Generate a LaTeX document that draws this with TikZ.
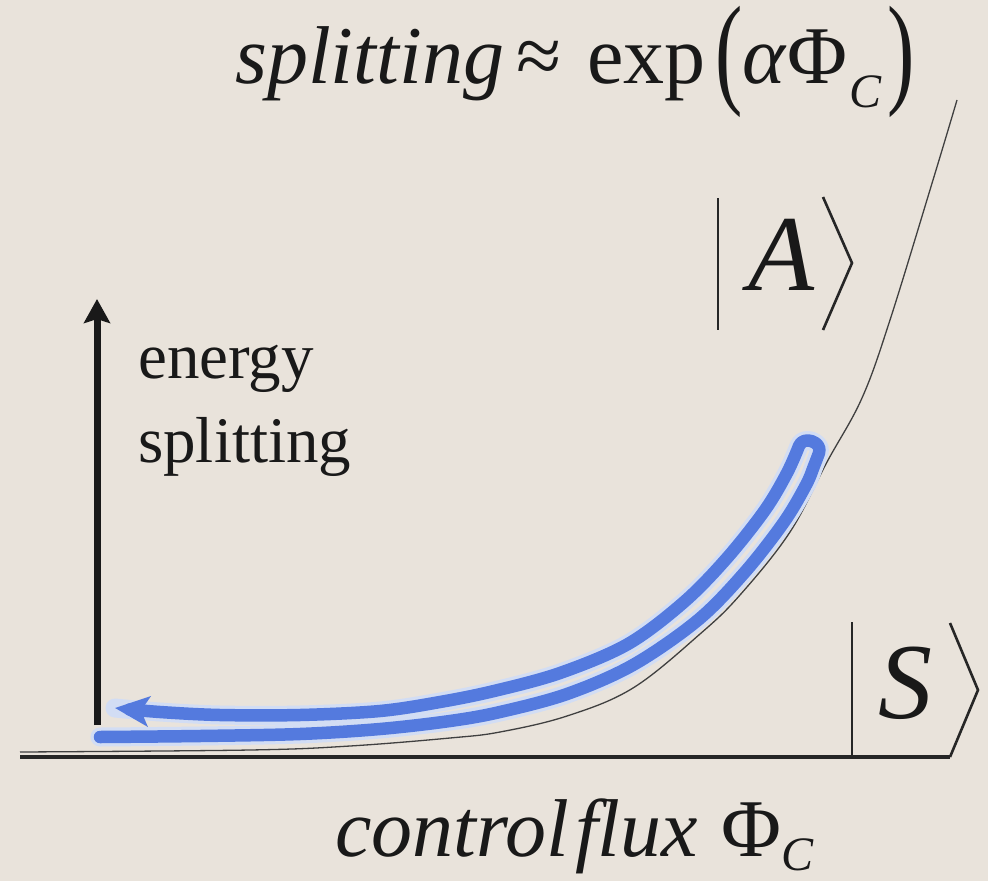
\documentclass[tikz,border=0pt]{standalone}
\usepackage{fontspec}
\setmainfont{Liberation Serif}
\usepackage{graphicx}
\usetikzlibrary{arrows.meta}
\definecolor{bg}{RGB}{233,227,219}
\definecolor{loopblue}{RGB}{84,122,222}
\definecolor{glow}{RGB}{210,221,244}
\newcommand{\tallparen}[1]{\raisebox{-8pt}{\scalebox{1}[1.5]{#1}}}
\newcommand{\subC}[1]{\raisebox{#1}{\fontsize{48}{50}\selectfont\textit{C}}}
\tikzset{
  axisline/.style={line width=3.5pt, draw=black!85},
  curveline/.style={line width=1.3pt, draw=black!75},
  ketline/.style={line width=2.6pt, draw=black!85, line join=miter},
  bigtext/.style={font=\fontsize{82}{90}\selectfont, inner sep=0pt, text=black!90},
  kettext/.style={font=\fontsize{108}{120}\selectfont\itshape, inner sep=0pt, text=black!90},
  labeltext/.style={font=\fontsize{65}{70}\selectfont, inner sep=0pt, text=black!90},
  loopstroke/.style={line width=12.5pt, draw=loopblue, line cap=round, line join=round},
  loophalo/.style={line width=19pt, draw=glow, line cap=round, line join=round},
  energyarrow/.style={line width=7pt, draw=black!90, -{Stealth[length=24pt,width=26pt,inset=4pt]}}
}
\begin{document}
\begin{tikzpicture}[x=1pt,y=-1pt]
\fill[bg] (0,0) rectangle (988,881);
\useasboundingbox (0,0) rectangle (988,881);

% axis
\coordinate (axL) at (20,757);
\coordinate (axR) at (950,757);
\draw[axisline] (axL) -- (axR);

% exponential curve
\draw[curveline] plot[smooth, tension=0.6] coordinates {
  (20,752) (250,750) (350,746) (450,738) (500,732) (567,716) (633,688)
  (700,634) (740,595) (790,532) (827,462) (862,398) (890,320) (933,180) (957,100)};

% blue loop: halo then stroke
\def\looppath{plot[smooth, tension=0.55] coordinates {(100,737) (200,736) (300,734) (380,729)
    (450,721) (500,712) (567,694) (633,665) (698,620) (745,572) (784,522) (806,485)
    (814,466) (819,453)}
  .. controls (823,442) and (803,435) .. (799,446)
  -- plot[smooth, tension=0.55] coordinates {(799,446) (787,473) (765,510) (727,558)
    (684,602) (628,644) (560,673) (494,691) (440,702) (380,711) (300,715) (220,715)
    (160,712) (115,708)}}
\draw[loophalo] \looppath;
\draw[loopstroke, -{Stealth[length=34pt,width=30pt,inset=8pt]}] \looppath;

% vertical arrow
\coordinate (vbot) at (97,725);
\coordinate (vtop) at (97,299);
\draw[energyarrow] (vbot) -- (vtop);

% labels
\node[labeltext, anchor=base west] (energy) at (138,378) {energy};
\node[labeltext, anchor=base west] (splitlbl) at (138,462) {splitting};

\node[bigtext, anchor=base west] (title) at (235,83)
  {\textit{splitting}\hspace{12pt}≈\hspace{26pt}exp\hspace{10pt}\tallparen{(}\textit{α}Φ\hspace{2pt}\subC{-24pt}\hspace{6pt}\tallparen{)}};

\node[bigtext, anchor=base west] (xlabel) at (335,856)
  {\textit{control}\hspace{6pt}\textit{flux}\hspace{24pt}Φ\subC{-14pt}};

% ket |A>
\coordinate (Abt) at (718,198);
\coordinate (Abb) at (718,330);
\coordinate (Aat) at (823,197);
\coordinate (Aam) at (852,263);
\coordinate (Aab) at (823,330);
\draw[ketline] (Abt) -- (Abb);
\draw[ketline] (Aat) -- (Aam) -- (Aab);
\node[kettext, anchor=base west] (Aletter) at (748,290) {A};

% ket |S>
\coordinate (Sbt) at (852,622);
\coordinate (Sbb) at (852,757);
\coordinate (Sat) at (950,623);
\coordinate (Sam) at (978,690);
\coordinate (Sab) at (950,757);
\draw[ketline] (Sbt) -- (Sbb);
\draw[ketline] (Sat) -- (Sam) -- (Sab);
\node[kettext, anchor=base west] (Sletter) at (878,718) {S};
\end{tikzpicture}
\end{document}
